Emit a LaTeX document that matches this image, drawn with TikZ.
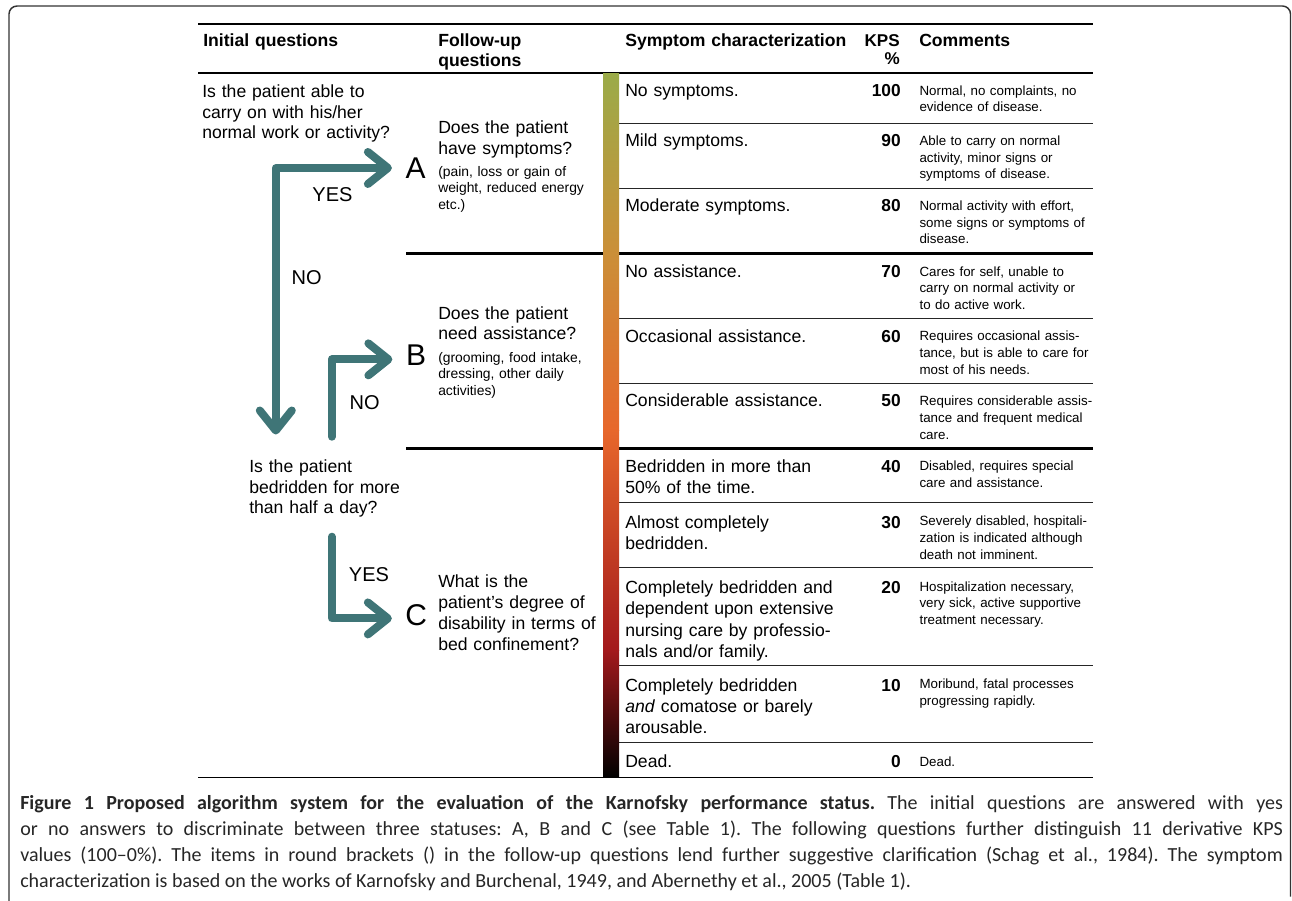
\documentclass[tikz,border=0pt]{standalone}
\usepackage{fontspec}
\setmainfont{Liberation Sans}
\newfontfamily\capfont{Carlito}
\usetikzlibrary{arrows.meta}

\definecolor{flowteal}{HTML}{3F7577}
\definecolor{kpsolive}{HTML}{9BAB48}
\definecolor{kpstan}{HTML}{CB8F38}
\definecolor{kpsorange}{HTML}{E7672B}
\definecolor{kpsred}{HTML}{A3191C}
\definecolor{framegray}{HTML}{333333}

\begin{document}
\begin{tikzpicture}[
            x = 0.75pt, y = -0.75pt, % one unit = one pixel, y runs down
            > = {Straight Barb[length=15pt, width=24pt, round]}, % arrow head style
            flow/.style = {draw=flowteal, line width=6pt, line cap=round, line join=round},
            shorten > = 10pt, % keep arrow head off the letter
            rule/.style = {draw=black, line width=1.3pt},
            rowline/.style = {draw=black!85, line width=0.8pt},
            thickline/.style = {draw=black, line width=1.9pt}
        ]

        \tikzstyle{every node}=[inner sep=0pt, text=black]
        \tikzstyle{head}=[anchor=base west, font=\bfseries\fontsize{13.2}{15}\selectfont, text width=230pt, align=left]
        \tikzstyle{question}=[anchor=base west, font=\fontsize{13.2}{15.6}\selectfont, text width=170pt, align=left]
        \tikzstyle{hint}=[anchor=base west, font=\fontsize{10.4}{12.5}\selectfont, text width=130pt, align=left]
        \tikzstyle{symptom}=[anchor=base west, font=\fontsize{13.2}{16}\selectfont, text width=170pt, align=left]
        \tikzstyle{kps}=[anchor=base east, font=\bfseries\fontsize{13}{14}\selectfont]
        \tikzstyle{comment}=[anchor=base west, font=\fontsize{10}{12.6}\selectfont, text width=140pt, align=left]
        \tikzstyle{letter}=[anchor=base, font=\fontsize{22.5}{24}\selectfont]
        \tikzstyle{answer}=[anchor=base, font=\fontsize{15}{16}\selectfont]

        \useasboundingbox (0,0) rectangle (1292,900);

        % frame
        \draw[framegray, line width=1.1pt, rounded corners=6pt] (9,910) -- (9,6) -- (1290.5,6) -- (1290.5,910);

        % table rules
        \draw[rule] (198,24) -- (1106,24);
        \draw[rule] (198,73.3) -- (1106,73.3);
        \draw[thickline] (406,253.3) -- (1106,253.3);
        \draw[thickline] (406,448.3) -- (1106,448.3);
        \draw[rule] (198,777.5) -- (1106,777.5);
        \draw[rowline] (619,123.3) -- (1106,123.3);
        \draw[rowline] (619,188.3) -- (1106,188.3);
        \draw[rowline] (619,318.3) -- (1106,318.3);
        \draw[rowline] (619,383.3) -- (1106,383.3);
        \draw[rowline] (619,502.7) -- (1106,502.7);
        \draw[rowline] (619,567.7) -- (1106,567.7);
        \draw[rowline] (619,665.7) -- (1106,665.7);
        \draw[rowline] (619,742.3) -- (1106,742.3);

        % colour bar
        \shade[top color=kpsolive, bottom color=kpstan] (603,73.3) rectangle (619,253.8);
        \shade[top color=kpstan, bottom color=kpsorange] (603,253.3) rectangle (619,430.5);
        \shade[top color=kpsorange, bottom color=kpsred] (603,430) rectangle (619,650.5);
        \shade[top color=kpsred, bottom color=black] (603,650) rectangle (619,777.5);

        % header
        \node[head] (hInit) at (203,46.7) {Initial questions};
        \node[head, text width=120pt] (hFollow) at (438,46.7) {Follow-up\\questions};
        \node[head] (hSymp) at (625,46.7) {Symptom characterization};
        \node[anchor=base east, font=\bfseries\fontsize{12.8}{13.7}\selectfont, text width=40pt, align=right] (hKps) at (900,46.7) {KPS\\\%};
        \node[head, text width=120pt] (hComm) at (919,46.7) {Comments};

        % initial questions
        \node[question] (q1) at (202,97.3) {Is the patient able to\\carry on with his/her\\normal work or activity?};
        \node[question] (q2) at (249,472.3) {Is the patient\\bedridden for more\\than half a day?};

        % statuses
        \node[letter] (A) at (415.5,178.3) {A};
        \node[letter] (B) at (416,365) {B};
        \node[letter] (C) at (416.3,625) {C};

        % follow-up questions
        \node[question, text width=125pt] (fA) at (438,133.3) {Does the patient\\have symptoms?};
        \node[hint] (hA) at (438,176) {(pain, loss or gain of\\weight, reduced energy\\etc.)};
        \node[question, text width=125pt] (fB) at (438,319) {Does the patient\\need assistance?};
        \node[hint] (hB) at (438,362.3) {(grooming, food intake,\\dressing, other daily\\activities)};
        \node[question, text width=125pt] (fC) at (438,587.7) {What is the\\patient’s degree of\\disability in terms of\\bed confinement?};

        % answer paths
        \coordinate (noA) at (275.8,434.5);
        \coordinate (noB) at (331.8,436.7);
        \coordinate (yesC) at (331.8,536.7);
        \draw[flow, <->] (noA) |- (A);
        \draw[flow, ->] (noB) |- ([yshift=-3.5pt]B.west);
        \draw[flow, ->] (yesC) |- ([yshift=-2.8pt]C.west);

        \node[answer] (yes1) at (332.5,201) {YES};
        \node[answer] (no1) at (306.7,284.3) {NO};
        \node[answer] (no2) at (364.7,409.3) {NO};
        \node[answer] (yes2) at (369,581.7) {YES};

        % rows A
        \node[symptom] (s100) at (625,96) {No symptoms.};
        \node[kps] (k100) at (901,96) {100};
        \node[comment] (c100) at (919.3,95) {Normal, no complaints, no\\evidence of disease.};
        \node[symptom] (s90) at (625,146.5) {Mild symptoms.};
        \node[kps] (k90) at (901,146.5) {90};
        \node[comment] (c90) at (919.3,145.3) {Able to carry on normal\\activity, minor signs or\\symptoms of disease.};
        \node[symptom] (s80) at (625,211.5) {Moderate symptoms.};
        \node[kps] (k80) at (901,211.5) {80};
        \node[comment] (c80) at (919.3,210.3) {Normal activity with effort,\\some signs or symptoms of\\disease.};

        % rows B
        \node[symptom] (s70) at (625,277) {No assistance.};
        \node[kps] (k70) at (901,277) {70};
        \node[comment] (c70) at (919.3,276) {Cares for self, unable to\\carry on normal activity or\\to do active work.};
        \node[symptom] (s60) at (625,342) {Occasional assistance.};
        \node[kps] (k60) at (901,342) {60};
        \node[comment] (c60) at (919.3,340.7) {Requires occasional assis-\\tance, but is able to care for\\most of his needs.};
        \node[symptom] (s50) at (625,406.5) {Considerable assistance.};
        \node[kps] (k50) at (901,406.5) {50};
        \node[comment] (c50) at (919.3,405.7) {Requires considerable assis-\\tance and frequent medical\\care.};

        % rows C
        \node[symptom] (s40) at (625,472) {Bedridden in more than\\50\% of the time.};
        \node[kps] (k40) at (901,472) {40};
        \node[comment] (c40) at (919.3,470.5) {Disabled, requires special\\care and assistance.};
        \node[symptom] (s30) at (625,528) {Almost completely\\bedridden.};
        \node[kps] (k30) at (901,528) {30};
        \node[comment] (c30) at (919.3,525.8) {Severely disabled, hospitali-\\zation is indicated although\\death not imminent.};
        \node[symptom] (s20) at (625,593.5) {Completely bedridden and\\dependent upon extensive\\nursing care by professio-\\nals and/or family.};
        \node[kps] (k20) at (901,593.5) {20};
        \node[comment] (c20) at (919.3,591) {Hospitalization necessary,\\very sick, active supportive\\treatment necessary.};
        \node[symptom] (s10) at (625,691) {Completely bedridden\\\textit{and} comatose or barely\\arousable.};
        \node[kps] (k10) at (901,691) {10};
        \node[comment] (c10) at (919.3,688.5) {Moribund, fatal processes\\progressing rapidly.};
        \node[symptom] (s0) at (625,767) {Dead.};
        \node[kps] (k0) at (901,767) {0};
        \node[comment] (c0) at (919.3,766.2) {Dead.};

        % caption
        \node[anchor=base west, text width=947pt, align=justify, text=black!85,
              font=\capfont\fontsize{15}{19.5}\selectfont\frenchspacing] (caption) at (20,809)
            {\textbf{Figure 1 Proposed algorithm system for the evaluation of the Karnofsky performance status.} The initial questions are answered with yes\linebreak
             or no answers to discriminate between three statuses: A, B and C (see Table 1). The following questions further distinguish 11 derivative KPS\linebreak
             values (100–0\%). The items in round brackets () in the follow-up questions lend further suggestive clarification (Schag et al., 1984). The symptom\linebreak
             characterization is based on the works of Karnofsky and Burchenal, 1949, and Abernethy et al., 2005 (Table 1).};

    \end{tikzpicture}
\end{document}
